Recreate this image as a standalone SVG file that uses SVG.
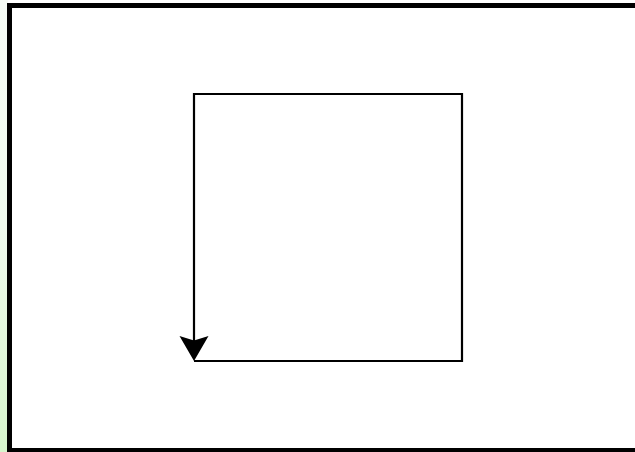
<svg xmlns="http://www.w3.org/2000/svg" width="635" height="452" viewBox="0 0 635 452">
  <defs>
    <linearGradient id="side" x1="0" y1="0" x2="0" y2="1">
      <stop offset="0" stop-color="#f6fcf6"/>
      <stop offset="0.5" stop-color="#f0fbee"/>
      <stop offset="1" stop-color="#d6f5cc"/>
    </linearGradient>
    <marker id="arrow" viewBox="-1 -16 27 32" refX="19" refY="0" markerWidth="27" markerHeight="32" markerUnits="userSpaceOnUse" orient="auto">
      <path d="M0,-14.5 L25,0 L0,14.5 L4.5,0 Z" fill="#000"/>
    </marker>
  </defs>
  <style>
    .frame { fill: #fff; stroke: #000; stroke-width: 5; }
    .edge { fill: none; stroke: #000; stroke-width: 2.2; }
  </style>
  <rect x="0" y="0" width="635" height="452" fill="#fff"/>
  <rect x="0" y="0" width="8" height="452" fill="url(#side)"/>
  <g id="frame">
    <rect class="frame" x="9.5" y="5.5" width="640" height="445"/>
  </g>
  <g id="connectors">
    <path class="edge" d="M194,361 H462 V94 H194 V355" marker-end="url(#arrow)"/>
  </g>
</svg>
